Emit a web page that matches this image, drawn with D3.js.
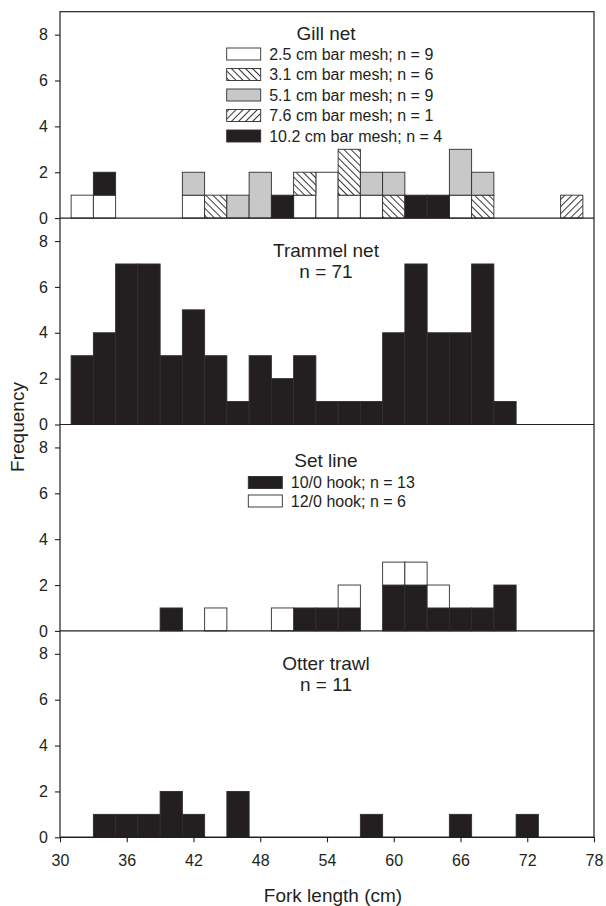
<!DOCTYPE html>
<html>
<head>
<meta charset="utf-8">
<script src="https://cdn.jsdelivr.net/npm/d3@7"></script>
<style>
    body { margin: 0; background: #fff; }
    svg { display: block; font-family: "Liberation Sans", Arial, Helvetica, sans-serif; }
    .axis text { font-size: 16px; fill: #231f20; }
    .axis line { stroke: #231f20; stroke-width: 1.1; }
    .frame { fill: none; stroke: #231f20; stroke-width: 1.2; }
    .baseline { stroke: #231f20; stroke-width: 1.2; }
    .bar { stroke: #2e2e2e; stroke-width: 0.9; }
    .panel-title { font-size: 19px; fill: #231f20; text-anchor: middle; }
    .legend-text { font-size: 16px; fill: #231f20; }
    .axis-title { font-size: 19px; fill: #231f20; }
</style>
</head>
<body>
<div id="chart"></div>
<script>
// Bin starts (cm), each bin is 2 cm wide
const binStarts = [31, 33, 35, 37, 39, 41, 43, 45, 47, 49, 51, 53, 55, 57, 59, 61, 63, 65, 67, 69, 71, 73, 75];
const binWidth = 2;

const xTicks = [30, 36, 42, 48, 54, 60, 66, 72, 78];
const yTicks = [0, 2, 4, 6, 8];

// Gill net, counts per bin by bar mesh size
const gill25 = [1, 1, 0, 0, 0, 1, 0, 0, 0, 0, 1, 2, 1, 1, 0, 0, 0, 1, 0, 0, 0, 0, 0];
const gill31 = [0, 0, 0, 0, 0, 0, 1, 0, 0, 0, 1, 0, 2, 0, 1, 0, 0, 0, 1, 0, 0, 0, 0];
const gill51 = [0, 0, 0, 0, 0, 1, 0, 1, 2, 0, 0, 0, 0, 1, 1, 0, 0, 2, 1, 0, 0, 0, 0];
const gill76 = [0, 0, 0, 0, 0, 0, 0, 0, 0, 0, 0, 0, 0, 0, 0, 0, 0, 0, 0, 0, 0, 0, 1];
const gill102 = [0, 1, 0, 0, 0, 0, 0, 0, 0, 1, 0, 0, 0, 0, 0, 1, 1, 0, 0, 0, 0, 0, 0];

// Trammel net
const trammel = [3, 4, 7, 7, 3, 5, 3, 1, 3, 2, 3, 1, 1, 1, 4, 7, 4, 4, 7, 1, 0, 0, 0];

// Set line by hook size
const setLine10 = [0, 0, 0, 0, 1, 0, 0, 0, 0, 0, 1, 1, 1, 0, 2, 2, 1, 1, 1, 2, 0, 0, 0];
const setLine12 = [0, 0, 0, 0, 0, 0, 1, 0, 0, 1, 0, 0, 1, 0, 1, 1, 1, 0, 0, 0, 0, 0, 0];

// Otter trawl
const otterTrawl = [0, 1, 1, 1, 2, 1, 0, 2, 0, 0, 0, 0, 0, 1, 0, 0, 0, 1, 0, 0, 1, 0, 0];

const gillLabels = [
    "2.5 cm bar mesh; n = 9",
    "3.1 cm bar mesh; n = 6",
    "5.1 cm bar mesh; n = 9",
    "7.6 cm bar mesh; n = 1",
    "10.2 cm bar mesh; n = 4"
];
const setLineLabels = ["10/0 hook; n = 13", "12/0 hook; n = 6"];
const panelTitles = [["Gill net"], ["Trammel net", "n = 71"], ["Set line"], ["Otter trawl", "n = 11"]];

const width = 606;
const height = 906;
const margin = { top: 11.7, right: 12, bottom: 68.7, left: 60 };
const plotBottom = height - margin.bottom;
const panelHeight = (plotBottom - margin.top) / 4;

const svg = d3.select("#chart")
    .append("svg")
    .attr("width", width)
    .attr("height", height);

    // Hatch patterns for the 3.1 cm and 7.6 cm meshes
const defs = svg.append("defs");
function hatch(id, angle) {
    defs.append("pattern")
        .attr("id", id)
        .attr("patternUnits", "userSpaceOnUse")
        .attr("width", 5)
        .attr("height", 5)
        .attr("patternTransform", `rotate(${angle})`)
        .call(p => p.append("rect").attr("width", 5).attr("height", 5).attr("fill", "#fff"))
        .append("line")
        .attr("x1", 2.5).attr("x2", 2.5)
        .attr("y1", 0).attr("y2", 5)
        .attr("stroke", "#231f20")
        .attr("stroke-width", 0.9);
}
hatch("hatch-back", -45);
hatch("hatch-fwd", 45);

const black = "#231f20";
const gray = "#c8c8c8";

const panels = [
    {
        series: [
            { counts: gill25, fill: "#fff" },
            { counts: gill31, fill: "url(#hatch-back)" },
            { counts: gill51, fill: gray },
            { counts: gill76, fill: "url(#hatch-fwd)" },
            { counts: gill102, fill: black }
        ],
        legend: { labels: gillLabels, order: [0, 1, 2, 3, 4], x: 226.7, y: 42.3, step: 20.5 },
        titleY: 28.3
    },
    { series: [{ counts: trammel, fill: black }], titleY: 38.6 },
    {
        series: [
            { counts: setLine10, fill: black },
            { counts: setLine12, fill: "#fff" }
        ],
        legend: { labels: setLineLabels, order: [0, 1], x: 248.3, y: 58, step: 18.5 },
        titleY: 42.5
    },
    { series: [{ counts: otterTrawl, fill: black }], titleY: 38.6 }
];

const x = d3.scaleLinear()
    .domain([30, 78])
    .range([margin.left, width - margin.right]);

panels.forEach((p, i) => {
    const top = margin.top + i * panelHeight;
    const bottom = top + panelHeight;

    const y = d3.scaleLinear()
        .domain([0, 9])
        .range([bottom, top]);

    const g = svg.append("g").attr("class", "panel");

        // Stack the series within each bin
    const rows = binStarts.map((b, j) => {
        const r = { bin: b };
        p.series.forEach((s, k) => { r["s" + k] = s.counts[j]; });
        return r;
    });
    const stacked = d3.stack().keys(p.series.map((s, k) => "s" + k))(rows);

    g.selectAll(".layer")
        .data(stacked)
        .join("g")
        .attr("class", "layer")
        .attr("fill", d => p.series[d.index].fill)
        .selectAll("rect")
        .data(d => d.filter(v => v[1] > v[0]))
        .join("rect")
        .attr("class", "bar")
        .attr("x", d => x(d.data.bin))
        .attr("width", d => x(d.data.bin + binWidth) - x(d.data.bin))
        .attr("y", d => y(d[1]))
        .attr("height", d => y(d[0]) - y(d[1]));

        // Zero line separating panels
    g.append("line")
        .attr("class", "baseline")
        .attr("x1", x(30)).attr("x2", x(78))
        .attr("y1", y(0)).attr("y2", y(0));

    g.append("g")
        .attr("class", "axis")
        .attr("transform", `translate(${margin.left},0)`)
        .call(d3.axisLeft(y).tickValues(yTicks).tickSize(5).tickPadding(7))
        .call(a => a.select(".domain").remove());

        // Title lines
    g.selectAll(".panel-title")
        .data(panelTitles[i])
        .join("text")
        .attr("class", "panel-title")
        .attr("x", 326)
        .attr("y", (d, k) => top + p.titleY + k * 21.5)
        .text(d => d);

        // Legend
    if (p.legend) {
        const L = p.legend;
        const items = g.selectAll(".legend-item")
            .data(L.order)
            .join("g")
            .attr("class", "legend-item")
            .attr("transform", (d, k) => `translate(${L.x},${top + L.y + k * L.step})`);
        items.append("rect")
            .attr("class", "bar")
            .attr("x", 0).attr("y", -6)
            .attr("width", 34).attr("height", 12)
            .attr("fill", d => p.series[d].fill);
        items.append("text")
            .attr("class", "legend-text")
            .attr("x", 42.5)
            .attr("dy", "0.35em")
            .text(d => L.labels[d]);
    }
});

    // Frame round all panels
svg.append("rect")
    .attr("class", "frame")
    .attr("x", x(30))
    .attr("y", margin.top)
    .attr("width", x(78) - x(30))
    .attr("height", plotBottom - margin.top);

    // Bottom axis
svg.append("g")
    .attr("class", "axis")
    .attr("transform", `translate(0,${plotBottom})`)
    .call(d3.axisBottom(x).tickValues(xTicks).tickSize(5).tickPadding(12.5))
    .call(a => a.select(".domain").remove());

svg.append("text")
    .attr("class", "axis-title")
    .attr("x", 333)
    .attr("y", 902)
    .attr("text-anchor", "middle")
    .text("Fork length (cm)");

svg.append("text")
    .attr("class", "axis-title")
    .attr("transform", "translate(24,427) rotate(-90)")
    .attr("text-anchor", "middle")
    .text("Frequency");
</script>
</body>
</html>
